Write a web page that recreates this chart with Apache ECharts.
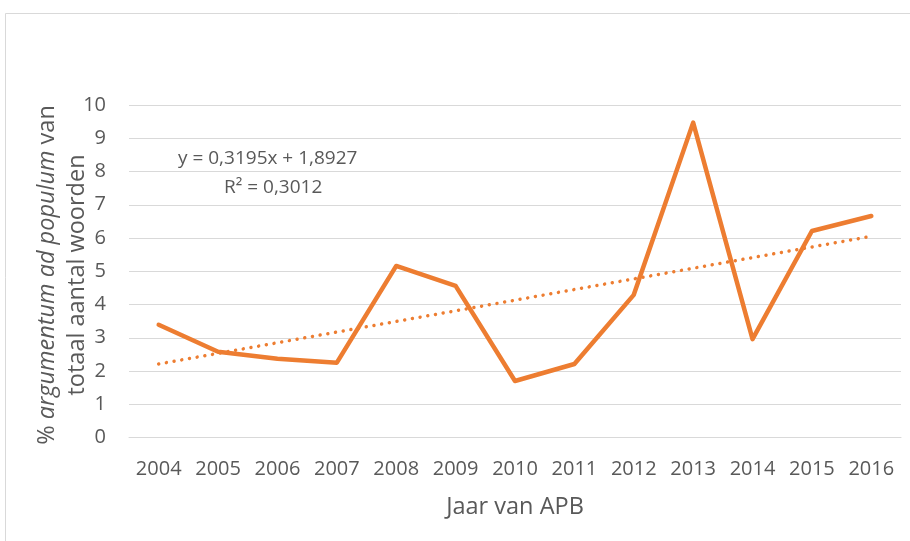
<!DOCTYPE html>
<html>
<head>
<meta charset="utf-8">
<script src="https://cdn.jsdelivr.net/npm/echarts@6/dist/echarts.min.js"></script>
<style>html,body{margin:0;padding:0;background:#fff}#c{width:910px;height:541px}</style>
</head>
<body>
<div id="c"></div>
<script>
const years = ['2004','2005','2006','2007','2008','2009','2010','2011','2012','2013','2014','2015','2016'];
const values = [3.39, 2.58, 2.37, 2.25, 5.16, 4.56, 1.70, 2.21, 4.29, 9.47, 2.96, 6.21, 6.66];
const trendValues = [2.21, 2.53, 2.85, 3.17, 3.49, 3.81, 4.13, 4.45, 4.77, 5.09, 5.41, 5.73, 6.05];
const yTicks = [0, 10, 1];
const equation = 'y = 0,3195x + 1,8927';
const rSquared = 'R² = 0,3012';

const FONT = 'Open Sans';
const chart = echarts.init(document.getElementById('c'), null, {renderer: 'canvas'});
chart.setOption({
  backgroundColor: '#fff',
  animation: false,
  grid: {left: 129, right: 9, top: 105, bottom: 103.5, containLabel: false},
  xAxis: {
    type: 'category',
    data: years,
    boundaryGap: true,
    axisLine: {show: true, lineStyle: {color: '#D9D9D9', width: 1}},
    axisTick: {show: false},
    axisLabel: {color: '#595959', fontFamily: FONT, fontSize: 20, margin: 22, interval: 0},
    name: 'Jaar van APB',
    nameLocation: 'middle',
    nameGap: 58,
    nameTextStyle: {color: '#595959', fontFamily: FONT, fontSize: 23.5}
  },
  yAxis: {
    type: 'value',
    min: yTicks[0], max: yTicks[1], interval: yTicks[2],
    axisLine: {show: false},
    axisTick: {show: false},
    splitLine: {lineStyle: {color: '#D9D9D9', width: 1}},
    axisLabel: {color: '#595959', fontFamily: FONT, fontSize: 20, margin: 23}
  },
  series: [
    {
      type: 'line',
      data: values,
      symbol: 'none',
      lineStyle: {color: '#ED7D31', width: 4.5, cap: 'round', join: 'round'},
      z: 3
    },
    {
      type: 'line',
      data: trendValues,
      symbol: 'none',
      lineStyle: {color: '#ED7D31', width: 3.5, type: [0.01, 7.8], cap: 'round'},
      z: 2
    }
  ],
  graphic: [
    {type: 'rect', shape: {x: 5.5, y: 13.5, width: 920, height: 540}, style: {fill: 'none', stroke: '#D9D9D9', lineWidth: 1}, z: -10},
    {type: 'text', left: 178, top: 149, style: {text: equation, fill: '#595959', font: '19px "Open Sans"'}},
    {type: 'text', left: 224, top: 178, style: {text: rSquared, fill: '#595959', font: '19px "Open Sans"'}},
    {
      type: 'text', x: 62, y: 275, rotation: Math.PI / 2,
      style: {
        text: '{n|% }{i|argumentum ad populum}{n| van}\n{n|totaal aantal woorden}',
        x: 0, y: 0, align: 'center', verticalAlign: 'middle',
        fill: '#595959', font: '23.5px "Open Sans"', lineHeight: 30,
        rich: {
          n: {fill: '#595959', fontFamily: FONT, fontSize: 23.5, lineHeight: 30},
          i: {fill: '#595959', fontFamily: FONT, fontSize: 23.5, fontStyle: 'italic', lineHeight: 30}
        }
      }
    }
  ]
});
</script>
</body>
</html>
